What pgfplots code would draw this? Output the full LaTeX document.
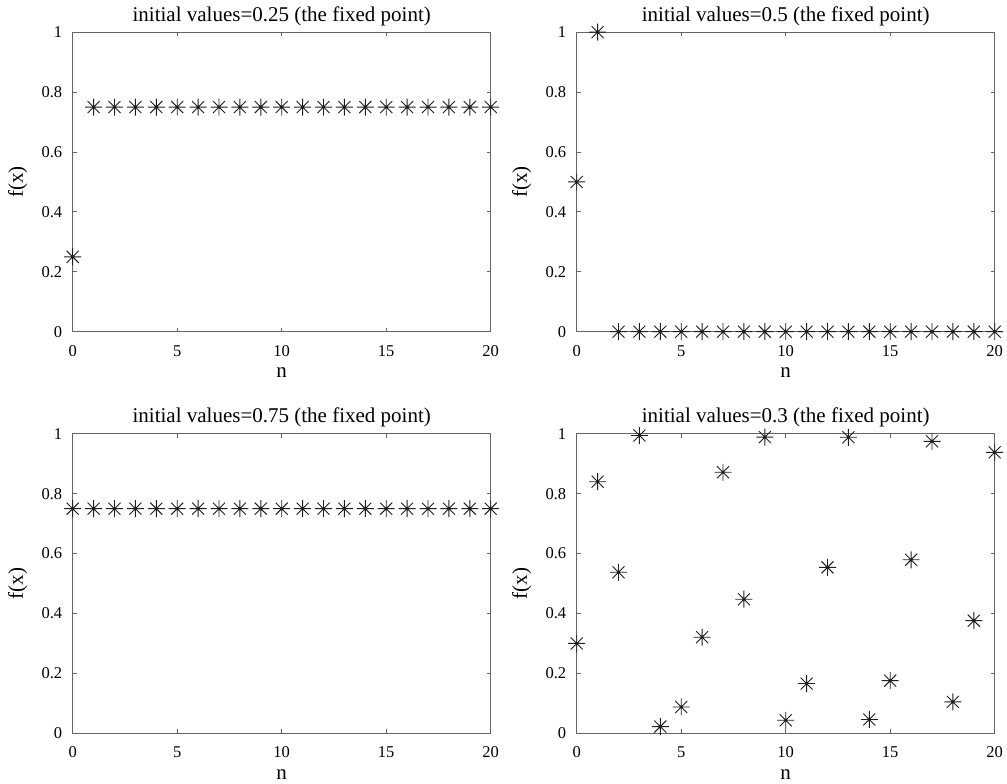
\documentclass[border=0pt]{standalone}
\usepackage{pgfplots}
\pgfplotsset{compat=1.18}
\usepackage{fontspec}
\setmainfont{Liberation Serif}
\pgfdeclareplotmark{mstar}{%
  \pgfpathmoveto{\pgfqpoint{-\pgfplotmarksize}{0pt}}\pgfpathlineto{\pgfqpoint{\pgfplotmarksize}{0pt}}%
  \pgfpathmoveto{\pgfqpoint{0pt}{-\pgfplotmarksize}}\pgfpathlineto{\pgfqpoint{0pt}{\pgfplotmarksize}}%
  \pgfpathmoveto{\pgfqpoint{-0.7071\pgfplotmarksize}{-0.7071\pgfplotmarksize}}\pgfpathlineto{\pgfqpoint{0.7071\pgfplotmarksize}{0.7071\pgfplotmarksize}}%
  \pgfpathmoveto{\pgfqpoint{-0.7071\pgfplotmarksize}{0.7071\pgfplotmarksize}}\pgfpathlineto{\pgfqpoint{0.7071\pgfplotmarksize}{-0.7071\pgfplotmarksize}}%
  \pgfusepathqstroke}
\definecolor{axgray}{RGB}{100,100,100}
\definecolor{mk}{RGB}{30,30,30}
\pgfplotsset{
  pts/.style={mk, only marks, mark=mstar, mark size=8.5pt, line width=0.9pt, mark options={solid}},
  myax/.style={
    scale only axis, width=418pt, height=299.5pt,
    xmin=0, xmax=20, ymin=0, ymax=1,
    xtick={0,5,10,15,20}, ytick={0,0.2,0.4,0.6,0.8,1},
    yticklabels={0,0.2,0.4,0.6,0.8,1},
    xticklabels={0,5,10,15,20},
    tick align=inside, major tick length=4pt,
    axis line style={axgray, line width=0.9pt},
    every tick/.style={axgray, line width=0.9pt},
    font=\fontsize{21}{24}\selectfont,
    tick label style={font=\fontsize{16.5}{19}\selectfont},
    xticklabel style={yshift=-10pt},
    yticklabel style={xshift=-7pt},
    xlabel={n}, ylabel={f(x)},
    xlabel style={at={(axis description cs:0.5,-0.137)}, anchor=center, font=\fontsize{21}{24}\selectfont},
    ylabel style={at={(axis description cs:-0.1316,0.5)}, anchor=center, font=\fontsize{21}{24}\selectfont},
    title style={at={(axis description cs:0.5,1.03)}, anchor=base, yshift=-4pt, font=\fontsize{21}{24}\selectfont},
    clip=false,
  }
}
\begin{document}
\begin{tikzpicture}[x=1pt,y=1pt]
\useasboundingbox (0,0) rectangle (1007,784);
\begin{axis}[myax, at={(72.7pt,452.3pt)}, anchor=south west,
  title={initial values=0.25 (the fixed point)}]
\addplot[pts] coordinates {(0,0.25)(1,0.75)(2,0.75)(3,0.75)(4,0.75)(5,0.75)(6,0.75)(7,0.75)(8,0.75)(9,0.75)(10,0.75)(11,0.75)(12,0.75)(13,0.75)(14,0.75)(15,0.75)(16,0.75)(17,0.75)(18,0.75)(19,0.75)(20,0.75)};
\end{axis}
\begin{axis}[myax, at={(576.7pt,452.3pt)}, anchor=south west,
  title={initial values=0.5 (the fixed point)}]
\addplot[pts] coordinates {(0,0.5)(1,1)(2,0)(3,0)(4,0)(5,0)(6,0)(7,0)(8,0)(9,0)(10,0)(11,0)(12,0)(13,0)(14,0)(15,0)(16,0)(17,0)(18,0)(19,0)(20,0)};
\end{axis}
\begin{axis}[myax, at={(72.7pt,50.7pt)}, anchor=south west,
  title={initial values=0.75 (the fixed point)}]
\addplot[pts] coordinates {(0,0.75)(1,0.75)(2,0.75)(3,0.75)(4,0.75)(5,0.75)(6,0.75)(7,0.75)(8,0.75)(9,0.75)(10,0.75)(11,0.75)(12,0.75)(13,0.75)(14,0.75)(15,0.75)(16,0.75)(17,0.75)(18,0.75)(19,0.75)(20,0.75)};
\end{axis}
\begin{axis}[myax, at={(576.7pt,50.7pt)}, anchor=south west,
  title={initial values=0.3 (the fixed point)}]
\addplot[pts] coordinates {(0,0.3)(1,0.84)(2,0.5376)(3,0.9943)(4,0.0225)(5,0.0879)(6,0.3208)(7,0.8716)(8,0.4476)(9,0.9890)(10,0.0434)(11,0.1661)(12,0.5540)(13,0.9884)(14,0.0461)(15,0.1757)(16,0.5794)(17,0.9748)(18,0.105)(19,0.376)(20,0.938)};
\end{axis}
\end{tikzpicture}
\end{document}
